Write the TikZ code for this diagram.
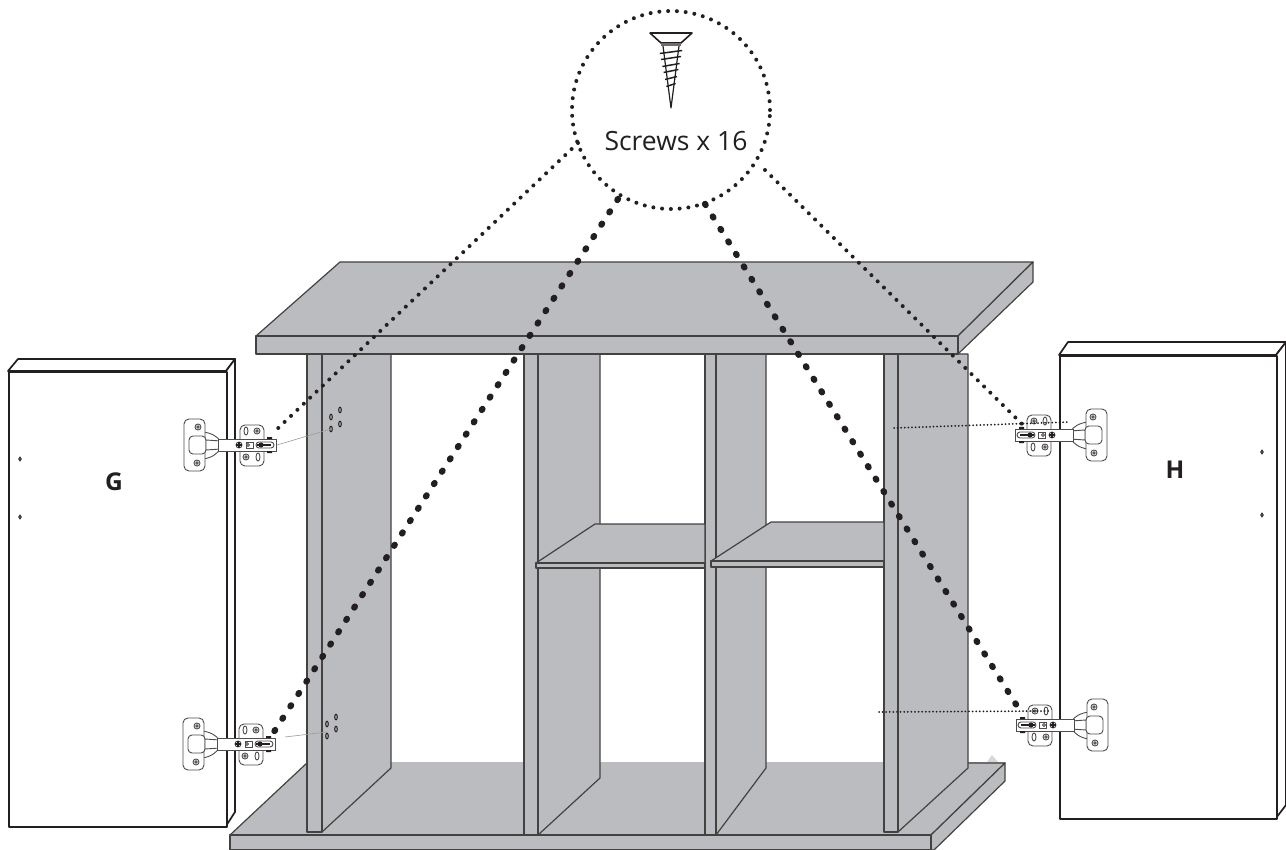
\documentclass[tikz,border=0pt]{standalone}
\usepackage{fontspec}
\setmainfont{Open Sans}
\definecolor{panelgrey}{HTML}{BBBCBF}
\definecolor{inkblack}{HTML}{231F20}
\tikzset{
	panel/.style={draw=inkblack!85, fill=panelgrey, line width=1.2pt, line join=round},
	door/.style={draw=inkblack, fill=white, line width=1.7pt, line join=round},
	hingepart/.style={draw=inkblack!80, fill=white, line width=0.9pt},
	thindots/.style={draw=inkblack, line width=4pt, line cap=round, dash pattern=on 0pt off 8.8pt},
	thickdots/.style={draw=inkblack, line width=6.3pt, line cap=round, dash pattern=on 1.2pt off 13.5pt},
	guide/.style={draw=inkblack, line width=2pt, line cap=round, dash pattern=on 0pt off 3.6pt},
	hole/.style={draw=inkblack, line width=1pt},
	hinge/.pic={
		\draw[hingepart] (19,13) .. controls (28,14) and (34,18) .. (36,22) -- (36,30) .. controls (34,34) and (28,39) .. (19,40) -- cycle;
		\draw[hingepart, rounded corners=5pt] (0,0) rectangle (21,52);
		\draw[hingepart, rounded corners=4pt] (5,17) rectangle (22,35);
		\draw[hingepart] (22,21) -- (37,22) -- (37,30) -- (22,31) -- cycle;
		\draw[hingepart, rounded corners=5pt] (56,6) rectangle (80,47);
		\draw[hingepart] (34,20) rectangle (92,32);
		\foreach \hx/\hy in {14/8, 13/44, 73/12, 62/38} {
			\draw[hingepart] (\hx,\hy) circle (3);
			\draw[hingepart] (\hx,\hy) circle (1.2);
		}
		\draw[hingepart] (62,12) ellipse (2 and 4);
		\draw[hingepart] (74,38) ellipse (2 and 4);
		\draw[hingepart] (55,26) circle (3);
		\draw[inkblack, line width=1.2pt] (52,26) -- (58,26) (55,23) -- (55,29);
		\draw[hingepart] (62,23) rectangle (69,29);
		\draw[hingepart] (64,26) circle (1.5);
		\draw[hingepart, rounded corners=3pt] (72,23) rectangle (90,29);
		\fill[inkblack] (77,26) circle (2.6);
		\draw[inkblack, line width=1.2pt] (73,26) -- (87,26);
		\fill[inkblack] (83,18) rectangle (88,20) (83,32) rectangle (88,34);
	}
}
\begin{document}
\begin{tikzpicture}[x=1pt, y=-1pt]
	\useasboundingbox (0,0) rectangle (1286,850);
	% bottom board
	\fill[panelgrey!60] (987,762) -- (992,755) -- (998,762) -- cycle;
	\fill[panel, draw=none] (230,835) -- (308,762) -- (1005,762) -- (931,835) -- cycle;
	\draw[panel, fill=none] (308,762) -- (230,835) -- (931,835) -- (1005,763) -- (966,763);
	\draw[panel] (931,835) -- (1005,763) -- (1005,781) -- (934,850) -- (931,850) -- cycle;
	\draw[panel] (230,835) rectangle (931,850);
	% uprights
	\draw[panel] (322,354) -- (391,354) -- (391,768) -- (322,832) -- cycle;
	\draw[panel] (307,354) rectangle (322,832);
	\draw[panel] (538,354) -- (600,354) -- (600,778) -- (538,835) -- cycle;
	\draw[panel] (524,354) rectangle (538,835);
	\draw[panel] (716,354) -- (766,354) -- (766,768) -- (716,835) -- cycle;
	\draw[panel] (705,354) rectangle (716,835);
	\draw[panel] (898,354) -- (968,354) -- (968,768) -- (898,832) -- cycle;
	\draw[panel] (884,354) rectangle (898,832);
	% shelves
	\draw[panel] (536,563) -- (595,524) -- (705,524) -- (705,563) -- cycle;
	\draw[panel] (536,563) rectangle (705,568);
	\draw[panel] (711,561) -- (771,522) -- (884,522) -- (884,561) -- cycle;
	\draw[panel] (711,561) rectangle (884,567);
	% top board
	\draw[panel] (256,336) -- (340,262) -- (1033,262) -- (958,336) -- cycle;
	\draw[panel] (958,336) -- (1033,262) -- (1033,282) -- (958,354) -- cycle;
	\draw[panel] (256,336) rectangle (958,354);
	% holes
	\foreach \hx/\hy in {331/417, 340/410, 331/429, 340/424, 327/724, 336/717, 327/736, 336/729} {
		\draw[hole] (\hx,\hy) ellipse (1.3 and 2.8);
	}
	% doors
	\draw[door] (8,371) -- (18,359) -- (235,359) -- (226,371) -- cycle;
	\draw[door] (226,371) -- (235,359) -- (235,812) -- (226,826) -- cycle;
	\node[door, minimum width=218pt, minimum height=455pt, inner sep=0pt, anchor=north west] (doorG) at (8,371) {};
	\draw[door] (1059,355) -- (1068,342) -- (1286,342) -- (1276,355) -- cycle;
	\draw[door] (1276,355) -- (1286,342) -- (1286,805) -- (1276,818) -- cycle;
	\node[door, minimum width=217pt, minimum height=463pt, inner sep=0pt, anchor=north west] (doorH) at (1059,355) {};
	\foreach \hx/\hy in {20/459, 20/517, 1262/452, 1262/515} {
		\draw[hole, fill=white] (\hx,\hy) ellipse (1.2 and 1.8);
	}
	\node[font=\bfseries\fontsize{24.5}{24.5}\selectfont, text=inkblack] (labelG) at (114,482) {G};
	\node[font=\bfseries\fontsize{24.5}{24.5}\selectfont, text=inkblack] (labelH) at (1175,470) {H};
	% hinges
	\pic at (184,419) {hinge};
	\pic at (183,718) {hinge};
	\pic[xscale=-1] at (1107,409) {hinge};
	\pic[xscale=-1] at (1108,699) {hinge};
	\draw[inkblack!45, line width=0.6pt] (277,445) -- (331,429);
	\draw[inkblack!45, line width=0.6pt] (285,737) -- (327,732);
	% screw callout
	\node[circle, thindots, minimum size=198pt, inner sep=0pt] (callout) at (671,110) {};
	\node[font=\fontsize{26.5}{26.5}\selectfont, text=inkblack] (screwsLabel) at (676,141) {Screws x 16};
	\draw[inkblack, line width=1.6pt, line join=round] (650,33) -- (692,33) -- (681,43) -- (661,43) -- cycle;
	\fill[inkblack!65] (661,43) rectangle (681,46);
	\draw[inkblack, line width=1.2pt, line join=round] (663,46) -- (671,108) -- (679,46);
	\foreach \sy in {52,58,65,71,78,85} {
		\draw[inkblack, line width=1.5pt] ({671-(108-\sy)*0.2},\sy+1.5) -- ({671+(108-\sy)*0.2},\sy-1.5);
	}
	% dotted leaders
	\coordinate (leaderA) at (578,143);
	\coordinate (leaderB) at (618,199);
	\coordinate (leaderC) at (705,204);
	\coordinate (leaderD) at (765,170);
	\coordinate (hingeA) at (273,433);
	\coordinate (hingeB) at (270,738);
	\coordinate (hingeC) at (1017,706);
	\coordinate (hingeD) at (1022,424);
	\draw[thindots] (leaderA) -- (hingeA);
	\draw[thickdots] (leaderB) -- (hingeB);
	\draw[thickdots] (leaderC) -- (hingeC);
	\draw[thindots] (leaderD) -- (hingeD);
	\coordinate (guideA) at (894,428);
	\coordinate (guideB) at (1070,422);
	\coordinate (guideC) at (879,712);
	\coordinate (guideD) at (1050,711);
	\draw[guide] (guideA) -- (guideB);
	\draw[guide] (guideC) -- (guideD);
\end{tikzpicture}
\end{document}
